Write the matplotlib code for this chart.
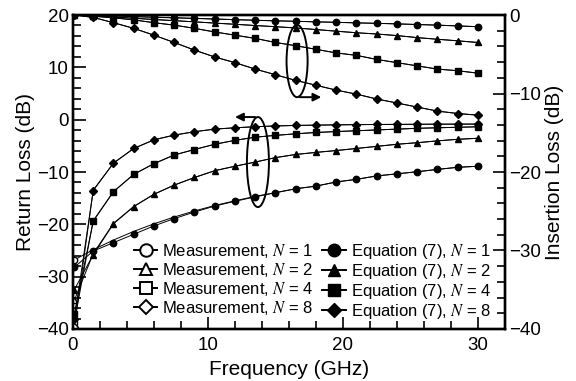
import matplotlib
matplotlib.use("Agg")
import matplotlib.pyplot as plt
from matplotlib.lines import Line2D
from matplotlib.patches import Ellipse
from matplotlib.ticker import MultipleLocator

plt.rcParams['font.family'] = ['Liberation Sans', 'DejaVu Sans']
plt.rcParams['mathtext.fontset'] = 'stix'

# frequency points (GHz)
freq = [0.1, 1.5, 3, 4.5, 6, 7.5, 9, 10.5, 12, 13.5, 15, 16.5, 18, 19.5, 21, 22.5, 24, 25.5, 27, 28.5, 30]

# return loss, equation (7)
rl_eq_1 = [-28.2, -25.1, -23.5, -21.9, -20.3, -18.9, -17.65, -16.5, -15.6, -14.75, -13.95, -13.2, -12.7, -11.9, -11.4, -10.75, -10.35, -9.95, -9.5, -9.1, -8.9]
rl_eq_2 = [-32.5, -25.8, -19.9, -16.6, -14.25, -12.5, -11.05, -9.75, -8.9, -8.1, -7.25, -6.65, -6.25, -5.9, -5.5, -5.1, -4.7, -4.4, -4.05, -3.75, -3.55]
rl_eq_4 = [-37.1, -19.4, -13.75, -10.45, -8.4, -6.75, -5.7, -4.7, -3.95, -3.35, -3.0, -2.7, -2.45, -2.27, -2.12, -1.96, -1.81, -1.65, -1.55, -1.45, -1.36]
rl_eq_8 = [-38.1, -13.55, -8.3, -5.5, -3.85, -2.95, -2.3, -1.8, -1.55, -1.35, -1.2, -1.1, -1.05, -0.99, -0.95, -0.92, -0.9, -0.88, -0.86, -0.85, -0.84]

# return loss, measurement
rl_ms_1 = [-26.8, -24.85, -23.0, -21.35, -19.9, -18.6, -17.45, -16.4, -15.5, -14.65, -13.95, -13.2, -12.7, -11.9, -11.4, -10.75, -10.35, -9.95, -9.5, -9.1, -8.9]
rl_ms_2 = [-34.5, -25.6, -19.8, -16.6, -14.25, -12.5, -11.05, -9.75, -8.9, -8.1, -7.25, -6.65, -6.25, -5.9, -5.5, -5.1, -4.7, -4.4, -4.05, -3.75, -3.55]
rl_ms_4 = [-38.6, -19.3, -13.75, -10.45, -8.4, -6.75, -5.7, -4.7, -3.95, -3.35, -3.0, -2.7, -2.45, -2.27, -2.12, -1.96, -1.81, -1.65, -1.55, -1.45, -1.36]
rl_ms_8 = [-39.7, -13.45, -8.3, -5.5, -3.85, -2.95, -2.3, -1.8, -1.55, -1.35, -1.2, -1.1, -1.05, -0.99, -0.95, -0.92, -0.9, -0.88, -0.86, -0.85, -0.84]

# insertion loss, equation (7)
il_eq_1 = [0, -0.05, -0.12, -0.21, -0.29, -0.36, -0.43, -0.51, -0.59, -0.67, -0.74, -0.8, -0.87, -0.93, -1.0, -1.06, -1.13, -1.21, -1.29, -1.39, -1.49]
il_eq_2 = [0, -0.1, -0.26, -0.41, -0.57, -0.72, -0.87, -1.03, -1.18, -1.34, -1.49, -1.65, -1.85, -2.06, -2.26, -2.42, -2.62, -2.88, -3.09, -3.29, -3.5]
il_eq_4 = [0, -0.15, -0.36, -0.62, -0.98, -1.29, -1.7, -2.16, -2.57, -2.98, -3.5, -3.91, -4.37, -4.83, -5.14, -5.66, -6.07, -6.48, -6.89, -7.1, -7.41]
il_eq_8 = [0, -0.31, -0.98, -1.7, -2.57, -3.5, -4.47, -5.35, -6.07, -6.89, -7.61, -8.33, -8.95, -9.57, -10.08, -10.7, -11.21, -11.73, -12.24, -12.55, -12.76]

# insertion loss, measurement
il_ms_1 = [0, -0.04, -0.1, -0.19, -0.27, -0.35, -0.43, -0.51, -0.59, -0.67, -0.74, -0.8, -0.87, -0.93, -1.0, -1.06, -1.13, -1.21, -1.29, -1.39, -1.49]
il_ms_2 = [0, -0.1, -0.25, -0.41, -0.57, -0.72, -0.87, -1.03, -1.18, -1.34, -1.49, -1.65, -1.85, -2.06, -2.26, -2.42, -2.62, -2.88, -3.09, -3.29, -3.5]
il_ms_4 = [0, -0.15, -0.36, -0.62, -0.98, -1.29, -1.7, -2.16, -2.57, -2.98, -3.5, -3.91, -4.37, -4.83, -5.14, -5.66, -6.07, -6.48, -6.89, -7.1, -7.41]
il_ms_8 = [0, -0.31, -0.98, -1.7, -2.57, -3.5, -4.47, -5.35, -6.07, -6.89, -7.61, -8.33, -8.95, -9.57, -10.08, -10.7, -11.21, -11.73, -12.24, -12.55, -12.76]

n_labels = ['1', '2', '4', '8']
markers = ['o', '^', 's', 'D']

fig = plt.figure(figsize=(5.76, 3.81), dpi=100)
ax = fig.add_axes([0.1267, 0.1365, 0.75, 0.8241])
ax2 = ax.twinx()

rl_eq = [rl_eq_1, rl_eq_2, rl_eq_4, rl_eq_8]
rl_ms = [rl_ms_1, rl_ms_2, rl_ms_4, rl_ms_8]
il_eq = [il_eq_1, il_eq_2, il_eq_4, il_eq_8]
il_ms = [il_ms_1, il_ms_2, il_ms_4, il_ms_8]

for i in range(4):
    ms = 3.6 if markers[i] == 'D' else 4.6
    # measurement: thin line, open marker only at the start
    ax.plot(freq, rl_ms[i], color='k', lw=0.7, marker=markers[i], mfc='white',
            ms=ms, markevery=[0], zorder=2)
    ax.plot(freq, rl_eq[i], color='k', lw=0.7, marker=markers[i], ms=ms, zorder=3)
    ax2.plot(freq, il_ms[i], color='k', lw=0.7, zorder=2)
    ax2.plot(freq, il_eq[i], color='k', lw=0.7, marker=markers[i], ms=ms, zorder=3)

ax.set_xlim(0, 32)
ax.set_ylim(-40, 20)
ax2.set_ylim(-40, 0)

ax.xaxis.set_major_locator(MultipleLocator(10))
ax.xaxis.set_minor_locator(MultipleLocator(2))
ax.yaxis.set_major_locator(MultipleLocator(10))
ax.yaxis.set_minor_locator(MultipleLocator(2))
ax2.yaxis.set_major_locator(MultipleLocator(10))
ax2.yaxis.set_minor_locator(MultipleLocator(2))

ax.tick_params(which='both', direction='in', top=False, right=False, width=1.2, labelsize=13.5, pad=3)
ax.tick_params(axis='x', which='both', pad=6)
ax.tick_params(which='major', length=9)
ax.tick_params(which='minor', length=6)
ax2.tick_params(which='both', direction='in', width=1.2, labelsize=13.5, pad=3)
ax2.tick_params(which='major', length=9)
ax2.tick_params(which='minor', length=6)

for a in (ax, ax2):
    for s in a.spines.values():
        s.set_linewidth(1.7)

ax.set_xlabel('Frequency (GHz)', fontsize=15, labelpad=4)
ax.set_ylabel('Return Loss (dB)', fontsize=15, labelpad=1)
ax2.set_ylabel('Insertion Loss (dB)', fontsize=15, labelpad=3)

# ellipses and arrows marking which axis each group belongs to
ax.add_patch(Ellipse((16.6, 11.2), 1.56, 13.8, fill=False, lw=1.4, color='k', zorder=4))
ax.annotate('', xy=(18.6, 4.3), xytext=(16.6, 4.3),
            arrowprops=dict(arrowstyle='-|>', color='k', lw=1.4, mutation_scale=12))
ax.add_patch(Ellipse((13.7, -8.1), 1.63, 17.2, fill=False, lw=1.4, color='k', zorder=4))
ax.annotate('', xy=(11.8, 0.5), xytext=(13.7, 0.5),
            arrowprops=dict(arrowstyle='-|>', color='k', lw=1.4, mutation_scale=12))

handles = []
labels = []
for i in range(4):
    handles.append(Line2D([], [], color='k', lw=1.4, marker=markers[i], mfc='white',
                          mew=1.4, ms=9 if markers[i] != 'D' else 7))
    labels.append('Measurement, $\\mathit{N}$ = ' + n_labels[i])
for i in range(4):
    handles.append(Line2D([], [], color='k', lw=1.4, marker=markers[i],
                          ms=9 if markers[i] != 'D' else 7))
    labels.append('Equation (7), $\\mathit{N}$ = ' + n_labels[i])

ax.legend(handles, labels, ncol=2, frameon=False, fontsize=12,
          loc='lower right', bbox_to_anchor=(0.995, -0.012), handlelength=1.4,
          handletextpad=0.3, columnspacing=0.5, labelspacing=0.06, borderaxespad=0.3)

fig.savefig('out.png', dpi=100)
